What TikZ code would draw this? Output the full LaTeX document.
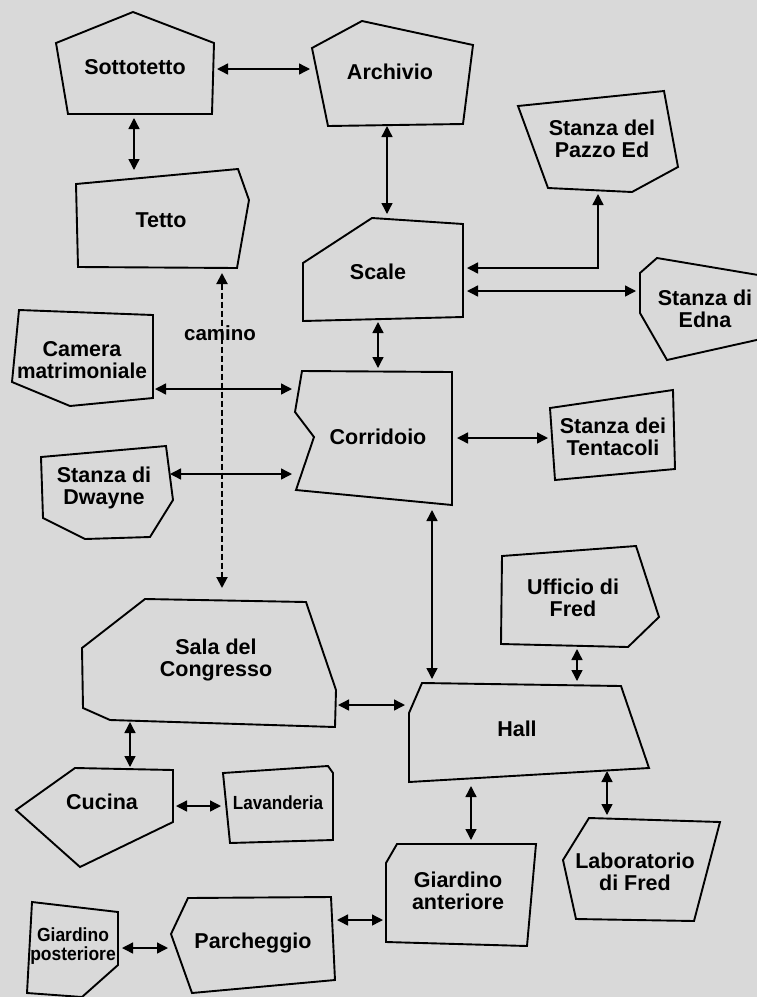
\documentclass[tikz,border=0pt]{standalone}
\usepackage{fontspec}
\setmainfont{Liberation Sans}
\usetikzlibrary{arrows.meta}
\definecolor{bgc}{HTML}{D9D9D9}
\begin{document}
\begin{tikzpicture}[x=1pt,y=-1pt,
  room/.style={draw=black,line width=1.9pt,line join=miter},
  lbl/.style={font=\bfseries\fontsize{21.5}{22}\selectfont,align=center,inner sep=0pt},
  small/.style={font=\bfseries\fontsize{19}{19}\selectfont,align=center,inner sep=0pt},
  tip/.style={},
  conn/.style={line width=1.4pt,{Triangle[length=11pt,width=11pt]}-{Triangle[length=11pt,width=11pt]}},
  chimney/.style={line width=2pt,dash pattern=on 6pt off 3pt,{Triangle[length=11pt,width=11pt]}-{Triangle[length=11pt,width=11pt]}}
]
\useasboundingbox (0,0) rectangle (757,997);
\fill[bgc] (0,0) rectangle (757,997);
\clip (0,0) rectangle (757,997);

% rooms
\draw[room] (133,12) -- (214,43) -- (212,114) -- (68,114) -- (56,43) -- cycle;
\node[lbl] (sotto) at (135,67) {Sottotetto};

\draw[room] (362,21) -- (473,45) -- (463,124) -- (328,126) -- (312,48) -- cycle;
\node[lbl] (arch) at (390,72) {Archivio};

\draw[room] (518,106) -- (664,91) -- (678,167) -- (632,192) -- (548,188) -- cycle;
\node[lbl] (pazzo) at (602,139) {Stanza del\\Pazzo Ed};

\draw[room] (76,184) -- (238,169) -- (249,200) -- (237,268) -- (78,267) -- cycle;
\node[lbl] (tetto) at (161,220) {Tetto};

\draw[room] (372,218) -- (463,224) -- (463,317) -- (303,321) -- (303,263) -- cycle;
\node[lbl] (scale) at (378,272) {Scale};

\draw[room] (657,258) -- (770,277) -- (770,337) -- (667,360) -- (640,313) -- (640,273) -- cycle;
\node[lbl] (edna) at (705,309) {Stanza di\\Edna};

\draw[room] (19,310) -- (153,315) -- (153,398) -- (70,406) -- (12,382) -- cycle;
\node[lbl] (camera) at (82,360) {Camera\\\scalebox{0.97}[1]{matrimoniale}};

\draw[room] (302,371) -- (452,372) -- (452,505) -- (296,490) -- (314,437) -- (295,412) -- cycle;
\node[lbl] (corr) at (378,437) {Corridoio};

\draw[room] (550,408) -- (673,390) -- (675,469) -- (555,480) -- cycle;
\node[lbl] (tent) at (613,437) {Stanza dei\\Tentacoli};

\draw[room] (41,457) -- (166,446) -- (173,500) -- (150,537) -- (85,539) -- (43,518) -- cycle;
\node[lbl] (dwayne) at (104,488) {Stanza di\\Dwayne};

\draw[room] (502,556) -- (636,546) -- (659,617) -- (628,647) -- (501,644) -- cycle;
\node[lbl] (uff) at (573,598) {Ufficio di\\Fred};

\draw[room] (145,599) -- (306,602) -- (336,690) -- (335,727) -- (110,720) -- (83,708) -- (82,648) -- cycle;
\node[lbl] (sala) at (216,660) {Sala del\\Congresso};

\draw[room] (422,683) -- (621,686) -- (649,768) -- (409,782) -- (409,713) -- cycle;
\node[lbl] (hall) at (517,729) {Hall};

\draw[room] (75,768) -- (173,770) -- (173,822) -- (80,867) -- (16,810) -- cycle;
\node[lbl] (cucina) at (102,802) {Cucina};

\draw[room] (223,773) -- (328,766) -- (333,773) -- (333,840) -- (230,843) -- cycle;
\node[small] (lav) at (278,803) {\scalebox{0.9}[1]{Lavanderia}};

\draw[room] (397,844) -- (536,844) -- (527,946) -- (386,942) -- (386,863) -- cycle;
\node[lbl] (gant) at (458,891) {Giardino\\anteriore};

\draw[room] (589,818) -- (720,822) -- (694,921) -- (576,919) -- (563,860) -- cycle;
\node[lbl] (lab) at (635,872) {Laboratorio\\di Fred};

\draw[room] (32,902) -- (118,912) -- (118,965) -- (82,997) -- (27,993) -- cycle;
\node[small] (gpost) at (73,946) {\scalebox{0.92}[1]{Giardino}\\\scalebox{0.92}[1]{posteriore}};

\draw[room] (188,898) -- (331,897) -- (335,980) -- (192,993) -- (171,934) -- cycle;
\node[lbl] (parch) at (253,943) {Parcheggio};

% connector end points
\coordinate (sotto-e) at (217,69);   \coordinate (arch-w) at (310,69);
\coordinate (sotto-s) at (134,118);  \coordinate (tetto-n) at (134,170);
\coordinate (arch-s) at (387,126);   \coordinate (scale-n) at (387,214);
\coordinate (scale-e1) at (467,268); \coordinate (pazzo-s) at (598,194);
\coordinate (scale-e2) at (467,291); \coordinate (edna-w) at (636,291);
\coordinate (scale-s) at (378,322);  \coordinate (corr-n) at (378,368);
\coordinate (tetto-s) at (222,273);  \coordinate (sala-n) at (222,588);
\coordinate (camera-e) at (155,389); \coordinate (corr-w1) at (292,389);
\coordinate (dwayne-e) at (170,474); \coordinate (corr-w2) at (292,474);
\coordinate (corr-e) at (457,438);   \coordinate (tent-w) at (548,438);
\coordinate (corr-s) at (432,510);   \coordinate (hall-n1) at (432,679);
\coordinate (uff-s) at (577,649);    \coordinate (hall-n2) at (577,681);
\coordinate (sala-e) at (338,705);   \coordinate (hall-w) at (405,705);
\coordinate (sala-s) at (130,722);   \coordinate (cucina-n) at (130,767);
\coordinate (cucina-e) at (176,806); \coordinate (lav-w) at (221,806);
\coordinate (hall-s1) at (471,786);  \coordinate (gant-n) at (471,840);
\coordinate (hall-s2) at (607,771);  \coordinate (lab-n) at (607,815);
\coordinate (gpost-e) at (122,948);  \coordinate (parch-w) at (168,948);
\coordinate (parch-e) at (337,920);  \coordinate (gant-w) at (383,920);

% connectors
\draw[conn] (sotto-e) -- (arch-w);
\draw[conn] (sotto-s) -- (tetto-n);
\draw[conn] (arch-s) -- (scale-n);
\draw[conn] (scale-e1) -| (pazzo-s);
\draw[conn] (scale-e2) -- (edna-w);
\draw[conn] (scale-s) -- (corr-n);
\draw[chimney] (tetto-s) -- (sala-n);
\node[lbl,font=\bfseries\fontsize{20.5}{22}\selectfont] (camino) at (220,333) {camino};
\draw[conn] (camera-e) -- (corr-w1);
\draw[conn] (dwayne-e) -- (corr-w2);
\draw[conn] (corr-e) -- (tent-w);
\draw[conn] (corr-s) -- (hall-n1);
\draw[conn] (uff-s) -- (hall-n2);
\draw[conn] (sala-e) -- (hall-w);
\draw[conn] (sala-s) -- (cucina-n);
\draw[conn] (cucina-e) -- (lav-w);
\draw[conn] (hall-s1) -- (gant-n);
\draw[conn] (hall-s2) -- (lab-n);
\draw[conn] (gpost-e) -- (parch-w);
\draw[conn] (parch-e) -- (gant-w);
\end{tikzpicture}
\end{document}
